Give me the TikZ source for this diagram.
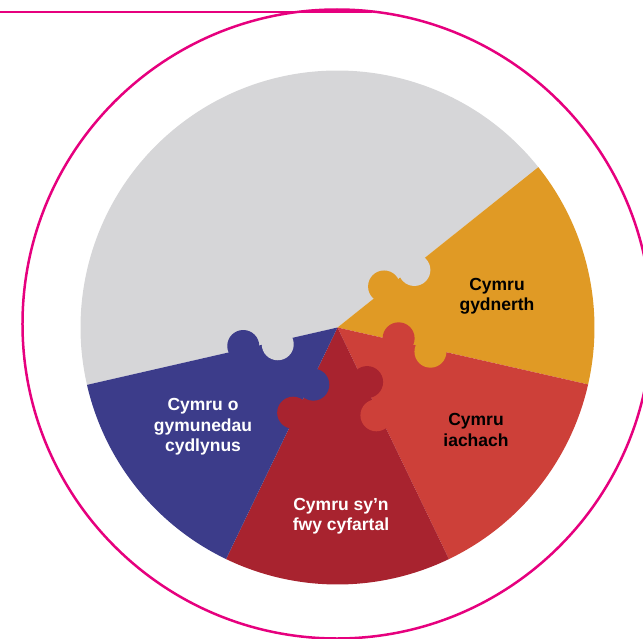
\documentclass[tikz,border=0pt]{standalone}
\usepackage{fontspec}
\setmainfont{Liberation Sans}
\usetikzlibrary{calc}
\definecolor{wgrey}{RGB}{214,214,216}
\definecolor{worange}{RGB}{224,154,37}
\definecolor{wred}{RGB}{205,64,57}
\definecolor{wdarkred}{RGB}{168,35,47}
\definecolor{wblue}{RGB}{60,60,138}
\definecolor{wpink}{RGB}{230,0,126}

\begin{document}
\begin{tikzpicture}[
x=1pt, y=1pt,
goal/.style={font=\fontsize{17.5}{20.5}\selectfont\bfseries, align=center},
ring/.style={wpink, line width=2.5pt},
]
\useasboundingbox (-337.5,-310.5) rectangle (305.5,327.5);
\draw[ring] (-0.5,3.5) circle[radius=314.5];
\coordinate (topleft) at (-337.5,315.5);
\coordinate (topend) at (35,315.5);
\draw[ring] (topleft) -- (topend);
\foreach \a/\b/\c in {38.6/192.9/wgrey, -12.8/38.6/worange,
  -64.3/-12.8/wred, -115.7/-64.3/wdarkred, -167.1/-115.7/wblue}
  \fill[\c] (0,0) -- (\a:257) arc[start angle=\a, end angle=\b, radius=257] -- cycle;
\foreach \a/\cw/\ccw in {38.6/worange/wgrey, -12.8/wred/worange,
  -64.3/wdarkred/wred, -115.7/wblue/wdarkred, -167.1/wgrey/wblue} {
  \fill[\cw] ($(\a:62)+(\a+90:3)$) circle[radius=16];
  \fill[\ccw] ($(\a:96)+(\a-90:3)$) circle[radius=16];
}
\node[goal] (gydnerth) at (159.5,31.5) {Cymru\\gydnerth};
\node[goal] (iachach) at (138.5,-102.5) {Cymru\\iachach};
\node[goal, white] (cyfartal) at (3.5,-188.5) {Cymru sy’n\\fwy cyfartal};
\node[goal, white] (cydlynus) at (-134.5,-99.5) {Cymru o\\gymunedau\\cydlynus};
\end{tikzpicture}
\end{document}
